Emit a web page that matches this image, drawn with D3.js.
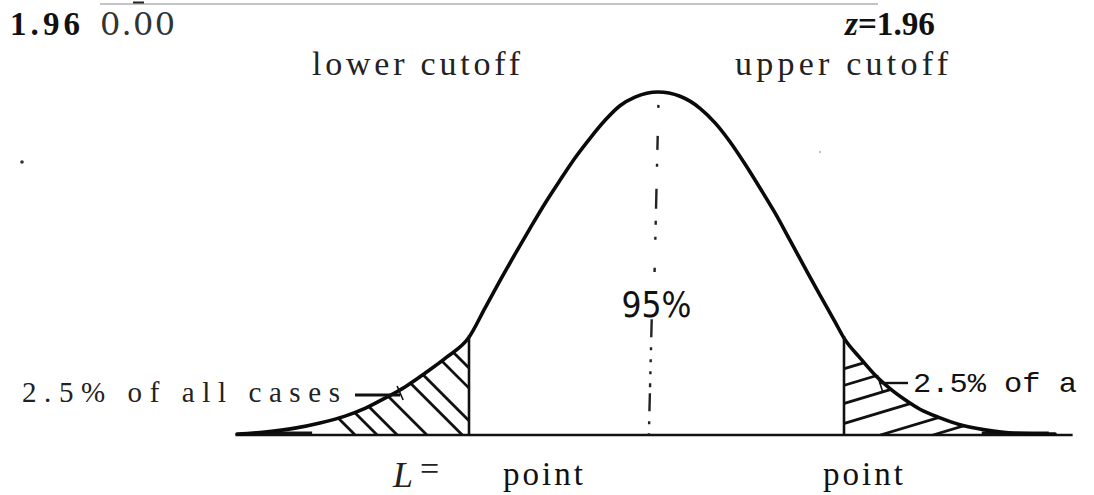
<!DOCTYPE html>
<html><head><meta charset="utf-8">
<script src="https://cdn.jsdelivr.net/npm/d3@7"></script>
<style>html,body{margin:0;padding:0;background:#fff;overflow:hidden}</style>
</head><body><div id="chart"></div>
<script>
// curve (z units vs. height)
const curveZ = [-4.385,-4.093,-3.779,-3.518,-3.256,-3.047,-2.838,-2.629,-2.420,-2.190,-1.96,-1.793,-1.636,-1.479,-1.322,-1.166,-1.009,-0.852,-0.695,-0.538,-0.382,-0.225,0.016,0.246,0.455,0.612,0.768,0.925,1.082,1.239,1.396,1.552,1.709,1.866,1.96,2.127,2.284,2.441,2.598,2.754,2.964,3.173,3.434,3.748,4.166];
const curveH = [0.001,0.0035,0.008,0.014,0.022,0.031,0.043,0.056,0.072,0.091,0.114,0.148,0.180,0.211,0.241,0.270,0.297,0.323,0.346,0.367,0.384,0.394,0.400,0.395,0.381,0.364,0.342,0.316,0.288,0.259,0.227,0.195,0.163,0.132,0.113,0.090,0.070,0.054,0.041,0.030,0.020,0.012,0.006,0.002,0.001];
const cutoffs = [-1.96, 1.96];
const baselineZ = [-4.40, 4.35];
const leftHatchZ = [-1.26,-1.47,-1.81,-2.03,-2.40,-2.71,-2.92,-3.15];
const rightHatchZ = [-0.35,0.23,0.86,1.56,2.34,2.89,3.49];
const centerLabel = "95%";

const W = 1094, H = 495;
const svg = d3.select("#chart").append("svg").attr("width", W).attr("height", H);
const x = d3.scaleLinear().domain([-1.96, 1.96]).range([469, 844]);
const y = d3.scaleLinear().domain([0, 0.4]).range([435, 92]);
const pts = curveZ.map((z, i) => ({z, h: curveH[i]}));
const curveGen = d3.curveMonotoneX;

// top rule
svg.append("line").attr("x1", 100).attr("x2", 878).attr("y1", 4).attr("y2", 4)
  .attr("stroke", "#c4c4c4").attr("stroke-width", 2);
svg.append("line").attr("x1", 133).attr("x2", 144).attr("y1", 2.5).attr("y2", 2.5)
  .attr("stroke", "#222").attr("stroke-width", 2);

// clip areas for tails
const area = d3.area().x(d => x(d.z)).y0(y(0)).y1(d => y(d.h)).curve(curveGen);
const defs = svg.append("defs");
defs.append("clipPath").attr("id", "clipL").append("path")
  .attr("d", area(pts.filter(d => d.z <= cutoffs[0])));
defs.append("clipPath").attr("id", "clipR").append("path")
  .attr("d", area(pts.filter(d => d.z >= cutoffs[1])));

svg.append("g").attr("clip-path", "url(#clipL)").selectAll("line").data(leftHatchZ).join("line")
  .attr("x1", d => x(d)).attr("y1", y(0)).attr("x2", d => x(d) - 160).attr("y2", y(0) - 160)
  .attr("stroke", "#111").attr("stroke-width", 2.8);
svg.append("g").attr("clip-path", "url(#clipR)").selectAll("line").data(rightHatchZ).join("line")
  .attr("x1", d => x(d)).attr("y1", y(0)).attr("x2", d => x(d) + 500).attr("y2", y(0) - 150)
  .attr("stroke", "#111").attr("stroke-width", 2.8);

// baseline
svg.append("line").attr("x1", x(baselineZ[0])).attr("x2", x(baselineZ[1]))
  .attr("y1", y(0)).attr("y2", y(0)).attr("stroke", "#111").attr("stroke-width", 2.6);
// thick tail ends
svg.append("line").attr("x1", x(-4.2)).attr("x2", x(-3.6)).attr("y1", y(0) - 2).attr("y2", y(0) - 2)
  .attr("stroke", "#111").attr("stroke-width", 3);
svg.append("line").attr("x1", x(3.4)).attr("x2", x(4.1)).attr("y1", y(0) - 2).attr("y2", y(0) - 2)
  .attr("stroke", "#111").attr("stroke-width", 3);

// curve
svg.append("path").datum(pts)
  .attr("d", d3.line().x(d => x(d.z)).y(d => y(d.h)).curve(curveGen))
  .attr("fill", "none").attr("stroke", "#0a0a0a").attr("stroke-width", 3.6)
  .attr("stroke-linejoin", "round").attr("stroke-linecap", "round");

// cutoff verticals
svg.selectAll(".cut").data(cutoffs).join("line").attr("class", "cut")
  .attr("x1", d => x(d)).attr("x2", d => x(d))
  .attr("y1", y(0)).attr("y2", d => y(curveH[curveZ.indexOf(d)]) - 2)
  .attr("stroke", "#111").attr("stroke-width", 2.6);

// centre dash-dot line
svg.append("line").attr("x1", x(0.02)).attr("x2", x(-0.02)).attr("y1", y(0.385)).attr("y2", y(0.19))
  .attr("stroke", "#222").attr("stroke-width", 2.4).attr("stroke-dasharray", "3,28,14,14,3,22,20,12,4,12");
svg.append("line").attr("x1", x(-0.05)).attr("x2", x(-0.08)).attr("y1", y(0.135)).attr("y2", y(0.0))
  .attr("stroke", "#222").attr("stroke-width", 2.4).attr("stroke-dasharray", "18,10,3,9,3,9,3,9,4,6");

svg.append("text").attr("x", x(0.0)).attr("y", 317).attr("text-anchor", "middle")
  .attr("font-family", "DejaVu Sans").attr("font-size", 36).attr("fill", "#111")
  .attr("textLength", 70).attr("lengthAdjust", "spacingAndGlyphs").text(centerLabel);

// arrows to tails
svg.append("line").attr("x1", 355).attr("x2", x(-2.68)).attr("y1", 395).attr("y2", 395)
  .attr("stroke", "#111").attr("stroke-width", 2.8);
svg.append("line").attr("x1", x(-2.68) - 3).attr("x2", x(-2.68) + 3).attr("y1", 386).attr("y2", 400)
  .attr("stroke", "#111").attr("stroke-width", 1.6);
svg.append("line").attr("x1", x(2.33)).attr("x2", 908).attr("y1", 383).attr("y2", 383)
  .attr("stroke", "#111").attr("stroke-width", 2.4);
svg.append("line").attr("x1", x(2.33) - 2).attr("x2", x(2.33) + 3).attr("y1", 375).attr("y2", 391)
  .attr("stroke", "#111").attr("stroke-width", 1.6);

// stray dots
svg.append("circle").attr("cx", 22).attr("cy", 162).attr("r", 1.8).attr("fill", "#333");
svg.append("circle").attr("cx", 820).attr("cy", 152).attr("r", 1).attr("fill", "#aaa");

// texts
function txt(s, xx, yy, opts) {
  const t = svg.append("text").attr("x", xx).attr("y", yy)
    .attr("font-family", opts.family || "Liberation Serif")
    .attr("font-size", opts.size).attr("fill", opts.fill || "#111");
  if (opts.weight) t.attr("font-weight", opts.weight);
  if (opts.style) t.attr("font-style", opts.style);
  if (opts.len) t.attr("textLength", opts.len).attr("lengthAdjust", opts.adj || "spacing");
  t.text(s);
  return t;
}
txt("1.96", 10, 35, {size: 33, weight: "bold", len: 70});
txt("0.00", 100, 35, {size: 32, len: 75, family: "DejaVu Serif", fill: "#333"});
const zt = svg.append("text").attr("x", 845).attr("y", 35).attr("font-family", "Liberation Serif")
  .attr("font-size", 33).attr("font-weight", "bold").attr("fill", "#111")
  .attr("textLength", 90).attr("lengthAdjust", "spacingAndGlyphs");
zt.append("tspan").attr("font-style", "italic").text("z");
zt.append("tspan").text("=1.96");
txt("lower cutoff", 312, 75, {size: 34, len: 208, fill: "#222"});
txt("upper cutoff", 735, 75, {size: 34, len: 213, fill: "#222"});
txt("2.5% of all cases", 22, 402, {size: 29, len: 318, fill: "#222"});
txt("2.5% of a", 913, 392, {size: 28, family: "Liberation Mono", len: 164, adj: "spacingAndGlyphs", fill: "#111"});
const lt = svg.append("text").attr("x", 393).attr("y", 487).attr("font-family", "Liberation Serif")
  .attr("font-size", 36).attr("fill", "#222");
lt.append("tspan").attr("font-style", "italic").text("L");
lt.append("tspan").attr("dx", 7).attr("dy", -7).attr("font-size", 34).text("=");
txt("point", 503, 485, {size: 33, len: 80});
txt("point", 823, 485, {size: 33, len: 80});
</script></body></html>
